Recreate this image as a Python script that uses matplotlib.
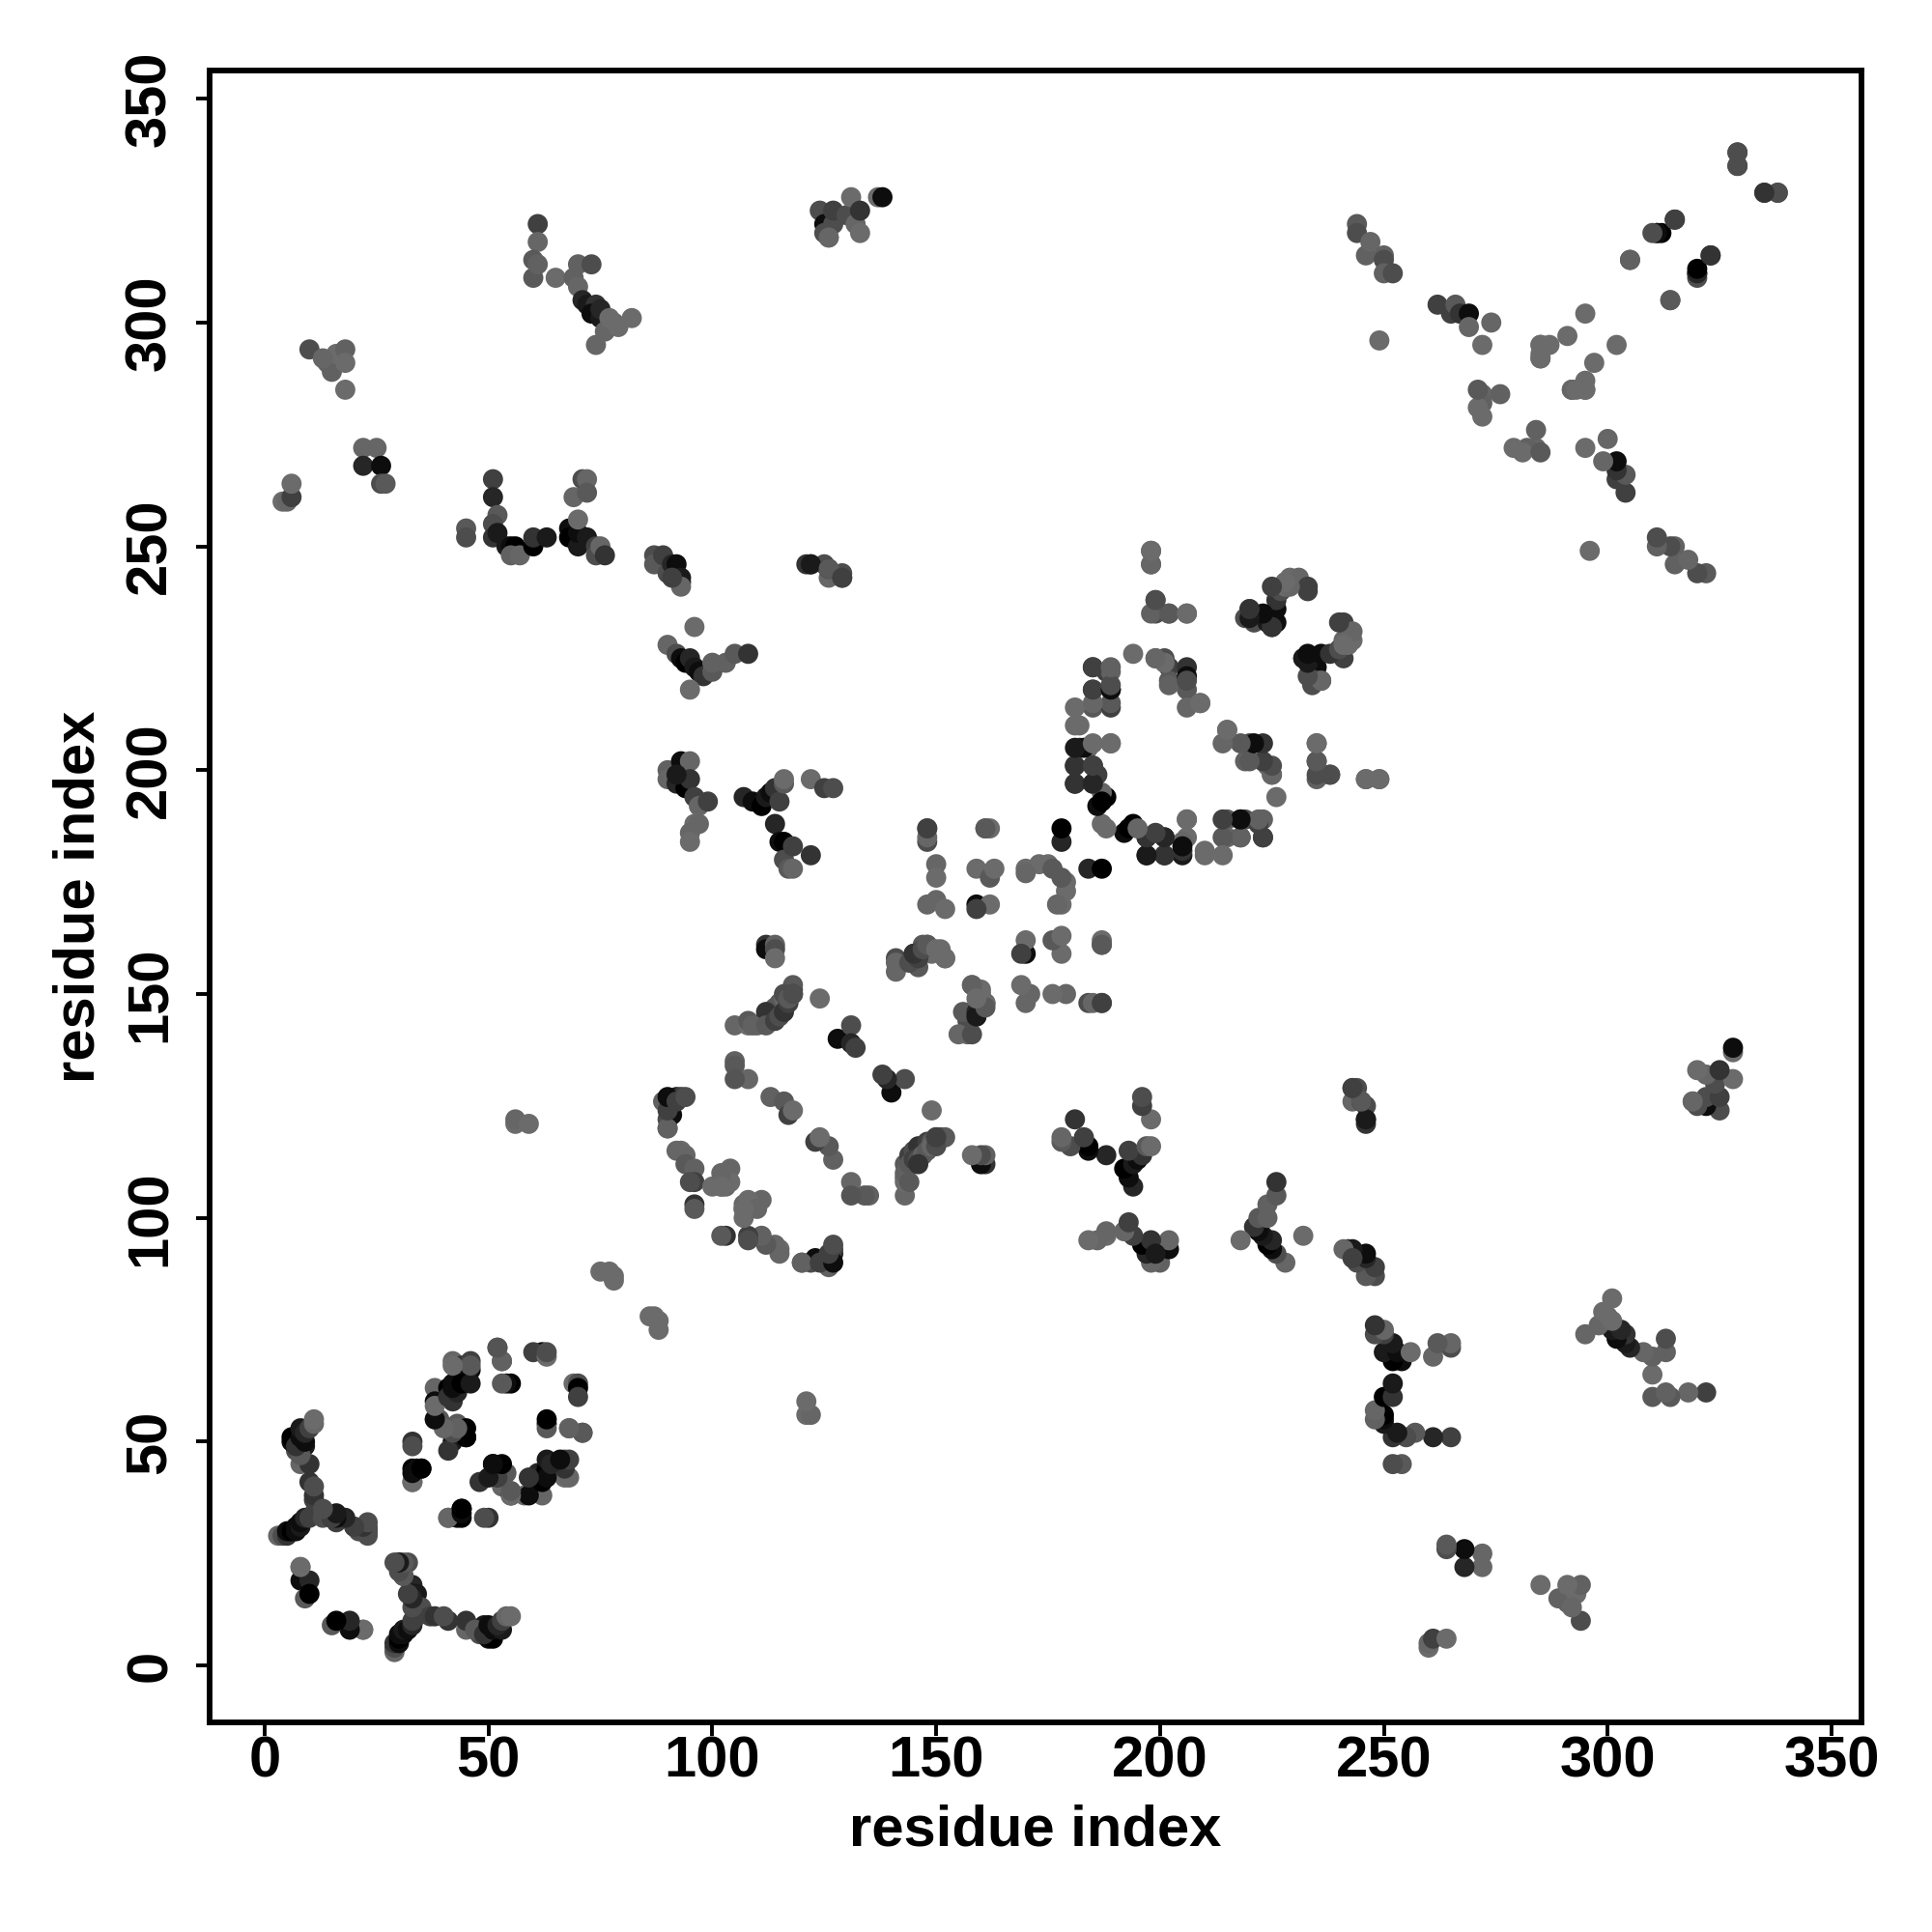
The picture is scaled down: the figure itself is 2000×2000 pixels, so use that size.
import matplotlib
matplotlib.use("Agg")
import matplotlib.pyplot as plt

# contacts, only i < j is listed, the map is symmetric
# gray is the marker gray in percent
helix_i = [3, 4, 5, 5, 6, 7, 7, 8, 8, 9, 10, 11, 11, 11, 10, 11, 8, 10, 7, 9, 8, 6, 6, 7, 8, 8, 9, 9, 10, 11, 11]
helix_j = [29, 29, 29, 30, 30, 30, 31, 31, 32, 33, 33, 34, 37, 38, 41, 40, 45, 45, 48, 49, 47, 50, 51, 49, 51, 53, 50, 52, 53, 54, 55]
helix_g = [40, 30, 20, 5, 0, 5, 5, 10, 5, 15, 25, 25, 25, 20, 20, 30, 40, 20, 30, 10, 35, 5, 0, 20, 5, 10, 5, 15, 25, 40, 42]

arm_i = [13, 15, 16, 20, 21, 23, 23, 23, 8, 8, 10, 9, 10, 22, 30, 31, 32, 31, 33, 33, 33, 34, 35]
arm_j = [33, 33, 32, 31, 30, 31, 30, 29, 22, 19, 19, 15, 16, 8, 23, 22, 23, 20, 18, 16, 15, 16, 13]
arm_g = [30, 15, 25, 35, 30, 35, 10, 30, 42, 5, 15, 35, 0, 42, 30, 20, 30, 25, 15, 5, 25, 10, 30]

ring_a_i = [33, 33, 33, 33, 34, 35, 38, 38, 38, 39, 41, 42, 42, 42, 43, 42, 42, 44, 45, 46, 45, 46, 41, 43, 44]
ring_a_j = [50, 49, 44, 41, 44, 44, 62, 59, 55, 55, 62, 68, 63, 59, 54, 52, 50, 67, 64, 68, 53, 66, 33, 33, 35]
ring_a_g = [20, 30, 0, 40, 5, 0, 40, 5, 42, 35, 0, 40, 5, 20, 35, 25, 10, 20, 15, 25, 0, 5, 42, 5, 0]

ring_b_i = [45, 48, 51, 52, 53, 53, 55, 58, 60, 61, 62, 63, 63, 63, 63, 67, 67, 62, 69, 70, 68, 71, 60, 52, 53, 55]
ring_b_j = [51, 41, 45, 42, 43, 40, 38, 38, 41, 43, 42, 44, 46, 54, 53, 46, 42, 70, 63, 63, 53, 52, 70, 71, 68, 63]
ring_b_g = [5, 20, 0, 30, 38, 40, 5, 42, 20, 15, 5, 0, 10, 5, 35, 35, 42, 0, 42, 30, 38, 33, 25, 35, 38, 0]

far_i = [75, 77, 78, 78, 56, 56, 59, 4, 5, 6, 6, 10, 14, 15, 16, 18, 18, 18, 13, 22, 25, 22, 26, 26, 27]
far_j = [88, 88, 86, 87, 121, 122, 121, 260, 260, 261, 264, 294, 291, 289, 293, 294, 291, 285, 292, 272, 272, 268, 268, 264, 264]
far_g = [42, 42, 42, 42, 42, 40, 42, 42, 40, 25, 42, 30, 38, 38, 42, 38, 42, 42, 40, 40, 40, 15, 5, 30, 35]

sheet_a_i = [45, 45, 51, 51, 52, 51, 51, 52, 54, 55, 56, 55, 57, 60, 60, 63, 68, 68, 70, 70, 70, 69, 71, 72, 72, 72, 74, 74, 75, 76]
sheet_a_j = [254, 252, 265, 261, 257, 255, 252, 253, 250, 250, 250, 248, 248, 250, 252, 252, 254, 252, 250, 253, 256, 261, 265, 265, 262, 252, 250, 248, 250, 248]
sheet_a_g = [35, 30, 25, 15, 35, 30, 20, 10, 10, 5, 0, 38, 40, 0, 20, 10, 5, 0, 10, 5, 42, 40, 30, 40, 35, 10, 25, 30, 40, 20]

sheet_b_i = [87, 87, 89, 90, 91, 92, 93, 93, 93, 91, 90, 92, 93, 94, 95, 96, 97, 98, 96, 95, 100, 100, 103, 105, 108]
sheet_b_j = [248, 246, 248, 244, 246, 246, 242, 243, 241, 243, 228, 226, 225, 224, 225, 223, 222, 221, 232, 218, 222, 224, 224, 226, 226]
sheet_b_g = [30, 35, 25, 30, 15, 5, 15, 10, 40, 25, 40, 30, 5, 0, 15, 10, 5, 20, 42, 42, 35, 38, 38, 35, 20]

sheet_c_i = [90, 90, 92, 93, 95, 94, 95, 96, 97, 99, 96, 97, 95, 95, 92, 107, 109, 111, 112, 113, 114, 115, 116, 116, 114, 115, 116, 116, 117, 118, 118, 122, 122, 125, 127]
sheet_c_j = [200, 198, 197, 202, 202, 196, 198, 194, 192, 193, 188, 188, 186, 184, 199, 194, 193, 192, 194, 195, 196, 193, 197, 198, 188, 184, 184, 180, 178, 178, 183, 181, 198, 196, 196]
sheet_c_g = [38, 40, 15, 5, 40, 0, 20, 25, 40, 25, 42, 40, 40, 42, 10, 15, 5, 0, 10, 5, 20, 25, 35, 42, 15, 5, 0, 30, 35, 40, 25, 20, 42, 25, 30]

loop_a_i = [89, 90, 90, 92, 93, 91, 93, 92, 94, 94, 96, 96, 95, 96, 96, 102, 103, 104, 104, 90, 90, 90, 92, 94, 100, 102, 102]
loop_a_j = [126, 122, 120, 127, 127, 123, 115, 115, 114, 112, 111, 108, 108, 103, 102, 107, 107, 111, 108, 120, 124, 127, 126, 127, 107, 110, 107]
loop_a_g = [38, 30, 40, 10, 25, 5, 42, 40, 40, 35, 38, 25, 30, 20, 35, 38, 40, 40, 42, 38, 25, 5, 25, 30, 42, 40, 42]

strand_i = [105, 108, 110, 112, 113, 113, 114, 115, 116, 117, 118, 118, 105, 105, 108, 105, 112, 112, 114, 114, 114, 113, 116, 117, 118, 124, 128, 131, 131, 132]
strand_j = [143, 143, 143, 144, 145, 146, 147, 148, 149, 150, 151, 152, 135, 134, 131, 131, 161, 160, 161, 160, 158, 127, 126, 123, 124, 149, 140, 143, 139, 138]
strand_g = [40, 42, 38, 35, 25, 30, 38, 35, 40, 38, 30, 35, 38, 35, 40, 33, 20, 5, 38, 30, 42, 38, 35, 25, 42, 42, 5, 30, 15, 25]

diag_a_i = [141, 141, 146, 146, 148, 151, 152, 148, 148, 150, 150, 148, 150, 152, 159, 162, 159, 162, 163, 161, 162, 170, 173, 175, 170, 176, 178, 178, 148, 148, 161, 159, 145, 147, 149]
diag_a_j = [155, 158, 156, 159, 161, 160, 158, 187, 184, 179, 176, 170, 171, 169, 170, 170, 178, 176, 178, 187, 187, 178, 179, 179, 177, 178, 184, 187, 185, 187, 187, 169, 159, 161, 159]
diag_a_g = [40, 30, 35, 15, 42, 42, 38, 38, 30, 40, 42, 40, 40, 42, 5, 42, 42, 35, 42, 42, 42, 42, 42, 42, 40, 35, 15, 0, 40, 25, 35, 25, 10, 35, 42]

ring_c_i = [185, 188, 189, 185, 189, 185, 181, 189, 181, 182, 184, 189, 181, 185, 181, 185, 188, 183, 186, 187]
ring_c_j = [223, 222, 222, 218, 218, 214, 214, 214, 210, 205, 205, 206, 201, 201, 197, 197, 194, 205, 199, 195]
ring_c_g = [25, 25, 38, 38, 5, 35, 42, 25, 42, 20, 40, 42, 20, 15, 10, 20, 0, 5, 25, 40]

ring_d_i = [187, 192, 193, 197, 197, 201, 201, 205, 206, 206, 210, 215, 215, 218, 218, 219, 223, 223, 194, 199, 201, 202, 202, 206, 206, 206, 206, 209, 215, 219, 220, 224, 225]
ring_d_j = [188, 186, 187, 181, 185, 181, 185, 181, 185, 189, 182, 189, 185, 185, 189, 189, 185, 189, 226, 225, 225, 223, 220, 223, 221, 218, 214, 215, 209, 202, 206, 201, 199]
ring_d_g = [42, 5, 0, 20, 15, 20, 25, 10, 42, 42, 42, 35, 40, 25, 5, 30, 25, 38, 42, 40, 30, 25, 35, 20, 5, 35, 40, 42, 42, 38, 30, 42, 40]

top_i = [198, 198, 199, 199, 202, 206, 235, 235, 235, 238, 246, 249, 220, 219, 220, 221, 224, 225, 226, 226, 226, 227, 228, 229, 231, 233, 228, 241, 241, 242, 232, 235, 234, 236, 241]
top_j = [249, 246, 238, 235, 235, 235, 198, 202, 206, 199, 198, 198, 235, 234, 236, 233, 233, 232, 233, 236, 238, 240, 242, 243, 243, 240, 241, 233, 229, 228, 225, 223, 220, 220, 225]
top_g = [42, 42, 30, 30, 35, 42, 38, 35, 42, 30, 40, 42, 25, 30, 40, 30, 10, 10, 5, 5, 20, 30, 42, 42, 40, 25, 42, 25, 40, 42, 20, 5, 10, 20, 25]

mid_i = [121, 125, 126, 129, 126, 129, 122, 124, 125, 126, 127, 127, 130, 131, 132, 133, 133, 137, 138, 125, 126]
mid_j = [246, 246, 243, 243, 245, 244, 246, 325, 322, 319, 322, 325, 324, 328, 322, 320, 325, 328, 328, 320, 319]
mid_g = [20, 30, 40, 35, 10, 30, 20, 30, 5, 40, 30, 25, 30, 42, 40, 42, 20, 42, 5, 30, 40]

corner_i = [61, 61, 60, 60, 61, 65, 69, 70, 70, 73, 71, 72, 74, 73, 75, 75, 76, 78, 79, 77, 74, 82]
corner_j = [322, 318, 314, 310, 313, 310, 310, 308, 313, 313, 305, 304, 304, 302, 301, 303, 298, 300, 299, 301, 295, 301]
corner_g = [25, 40, 35, 35, 38, 42, 38, 40, 38, 30, 15, 10, 20, 5, 10, 15, 40, 40, 42, 42, 40, 42]

right_a_i = [244, 244, 246, 247, 250, 250, 250, 252, 249, 262, 265, 266, 267, 269, 269, 272, 274, 272, 272, 271, 271, 272, 276]
right_a_j = [322, 320, 315, 318, 315, 314, 311, 311, 296, 304, 302, 304, 302, 302, 299, 295, 300, 284, 282, 281, 285, 279, 284]
right_a_g = [35, 30, 38, 40, 38, 30, 38, 30, 42, 25, 25, 35, 20, 5, 40, 42, 40, 40, 38, 42, 35, 42, 38]

right_b_i = [285, 285, 287, 285, 291, 295, 292, 295, 305, 311, 312, 315, 314, 320, 320, 323, 329, 329, 335, 338, 122, 126, 129]
right_b_j = [295, 292, 295, 293, 297, 302, 285, 285, 314, 320, 320, 323, 305, 311, 310, 315, 338, 335, 329, 329, 246, 245, 243]
right_b_g = [42, 40, 42, 42, 42, 42, 42, 42, 35, 15, 0, 20, 38, 5, 30, 25, 30, 20, 30, 30, 10, 35, 25]

# thicker parts of the clusters, seen after the first overlay
extra_i = [157, 157, 158, 159, 160, 161, 158, 160, 143, 143, 144, 145, 146, 148, 149, 150, 108, 112, 116, 118]
extra_j = [141, 144, 146, 145, 147, 148, 152, 150, 109, 112, 114, 115, 116, 117, 117, 118, 144, 146, 150, 150]
extra_g = [40, 30, 25, 20, 30, 35, 42, 42, 38, 35, 25, 30, 20, 25, 35, 30, 35, 20, 30, 25]

all_i = (helix_i + arm_i + ring_a_i + ring_b_i + far_i + sheet_a_i + sheet_b_i + sheet_c_i + loop_a_i
         + strand_i + diag_a_i + ring_c_i + ring_d_i + top_i + mid_i + corner_i + right_a_i + right_b_i + extra_i)
all_j = (helix_j + arm_j + ring_a_j + ring_b_j + far_j + sheet_a_j + sheet_b_j + sheet_c_j + loop_a_j
         + strand_j + diag_a_j + ring_c_j + ring_d_j + top_j + mid_j + corner_j + right_a_j + right_b_j + extra_j)
all_g = (helix_g + arm_g + ring_a_g + ring_b_g + far_g + sheet_a_g + sheet_b_g + sheet_c_g + loop_a_g
         + strand_g + diag_a_g + ring_c_g + ring_d_g + top_g + mid_g + corner_g + right_a_g + right_b_g + extra_g)

axis_ticks = [0, 50, 100, 150, 200, 250, 300, 350]

plt.rcParams['font.family'] = ['Liberation Sans', 'DejaVu Sans']

fig = plt.figure(figsize=(20, 20), dpi=100)
ax = fig.add_axes([217 / 2000, 1 - 1783 / 2000, 1710 / 2000, 1710 / 2000])

# both halves of the map
x = all_i + all_j
y = all_j + all_i
colors = [str(g / 100) for g in all_g] * 2
ax.scatter(x, y, s=225, c=colors, linewidths=0)

ax.set_xlim(-12.3, 356.7)
ax.set_ylim(-12.7, 356.3)
ax.set_xticks(axis_ticks)
ax.set_yticks(axis_ticks)
ax.set_xticklabels(axis_ticks, fontsize=43, fontweight='bold')
ax.set_yticklabels(axis_ticks, fontsize=43, fontweight='bold', rotation=90, va='center')
ax.tick_params(axis='x', length=10, width=2.8, pad=0)
ax.tick_params(axis='y', length=10, width=2.8, pad=14)
for spine in ax.spines.values():
    spine.set_linewidth(4.2)

ax.set_xlabel("residue index", fontsize=43, fontweight='bold', labelpad=11)
ax.set_ylabel("residue index", fontsize=43, fontweight='bold', labelpad=14)

fig.savefig('out.png', dpi=100)
